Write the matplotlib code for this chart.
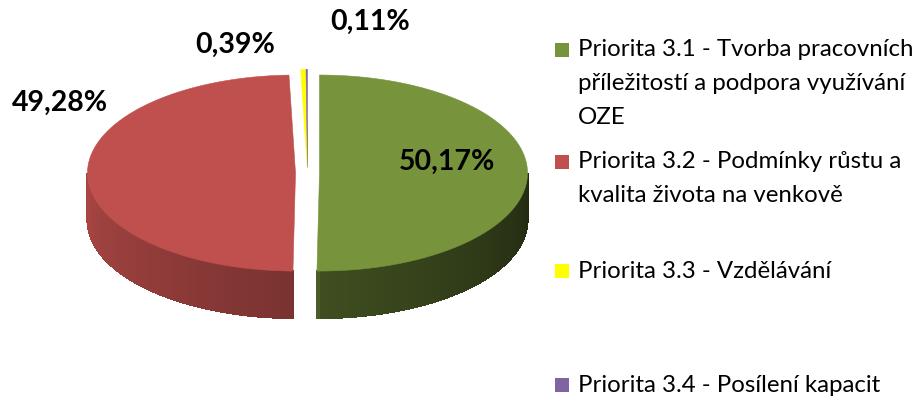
import numpy as np
import matplotlib
matplotlib.use("Agg")
import matplotlib.pyplot as plt
from matplotlib.patches import Polygon, Rectangle
from matplotlib.collections import PolyCollection
from matplotlib.colors import to_rgb

# ---- data ----
categories = [
    "Priorita 3.1 - Tvorba pracovních\npříležitostí a podpora využívání\nOZE",
    "Priorita 3.2 - Podmínky růstu a\nkvalita života na venkově",
    "Priorita 3.3 - Vzdělávání",
    "Priorita 3.4 - Posílení kapacit",
]
values = [50.17, 49.28, 0.39, 0.11]
value_labels = ["50,17%", "49,28%", "0,39%", "0,11%"]
colors = ["#77933C", "#C0504D", "#FFFF00", "#8064A2"]

# ---- layout ----
W, H = 923, 409
cx, cy = 307.5, 173.0
rx, ry = 208.0, 98.0
depth = 47.0
explode = 12.0
label_pos = [(447, 162), (60, 103), (235, 45), (370, 22)]
legend_y = [50, 162, 271, 385]
legend_x = 561
line_h = 33.5

fig = plt.figure(figsize=(W / 100, H / 100), dpi=100)
ax = fig.add_axes([0, 0, 1, 1])
ax.set_xlim(0, W)
ax.set_ylim(H, 0)
ax.axis("off")

total = sum(values)
fr = np.array(values) / total
start = 90.0
bounds = []
a = start
for f in fr:
    a2 = a - f * 360.0
    bounds.append((a, a2))
    a = a2


def pt(t, ox, oy, dz=0.0):
    r = np.radians(t)
    return ox + rx * np.cos(r), oy - ry * np.sin(r) + dz


def shade(c, k):
    c = np.array(to_rgb(c))
    return tuple(np.clip(c * k, 0, 1))


for (a1, a2), col in zip(bounds, colors):
    mid = np.radians((a1 + a2) / 2)
    ox = cx + explode * np.cos(mid)
    oy = cy - explode * (ry / rx) * np.sin(mid)
    ts = np.linspace(a1, a2, max(4, int(abs(a1 - a2) * 2)))
    ts_n = ((ts + 360) % 360)
    front = (ts_n > 180) & (ts_n < 360)
    idx = np.where(front)[0]
    if len(idx) > 1:
        tf = ts[idx]
        polys, fcs = [], []
        for i in range(len(tf) - 1):
            t0, t1 = tf[i], tf[i + 1]
            tm = (((t0 + t1) / 2) + 360) % 360
            u = (tm - 180) / 180.0
            k = 0.88 - 0.5 * u
            if tm > 270:
                k -= 0.1
            x0, y0 = pt(t0, ox, oy)
            x1, y1 = pt(t1, ox, oy)
            polys.append([(x0, y0), (x1, y1), (x1, y1 + depth), (x0, y0 + depth)])
            fcs.append(shade(col, k))
        pc = PolyCollection(polys, facecolors=fcs, edgecolors=fcs,
                            linewidths=0.8, antialiaseds=False, zorder=2)
        ax.add_collection(pc)
    tt = np.linspace(a1, a2, max(4, int(abs(a1 - a2) * 2)))
    xs, ys = pt(tt, ox, oy)
    poly = [(ox, oy)] + list(zip(xs, ys))
    ax.add_patch(Polygon(poly, closed=True, facecolor=col, edgecolor=col,
                         lw=0.4, zorder=3))

for lab, (lx, ly) in zip(value_labels, label_pos):
    ax.text(lx, ly, lab, ha="center", va="center", fontsize=20.5,
            fontweight="bold", family="Lato", color="black", zorder=5)

for cat, col, y in zip(categories, colors, legend_y):
    ax.add_patch(Rectangle((legend_x - 6.5, y - 7), 14, 14, facecolor=col,
                           edgecolor="none", zorder=5))
    for j, line in enumerate(cat.split("\n")):
        ax.text(legend_x + 17, y + j * line_h, line, ha="left", va="center",
                fontsize=17.3, family="Lato", color="black", zorder=5)

fig.savefig("out.png", dpi=100)
